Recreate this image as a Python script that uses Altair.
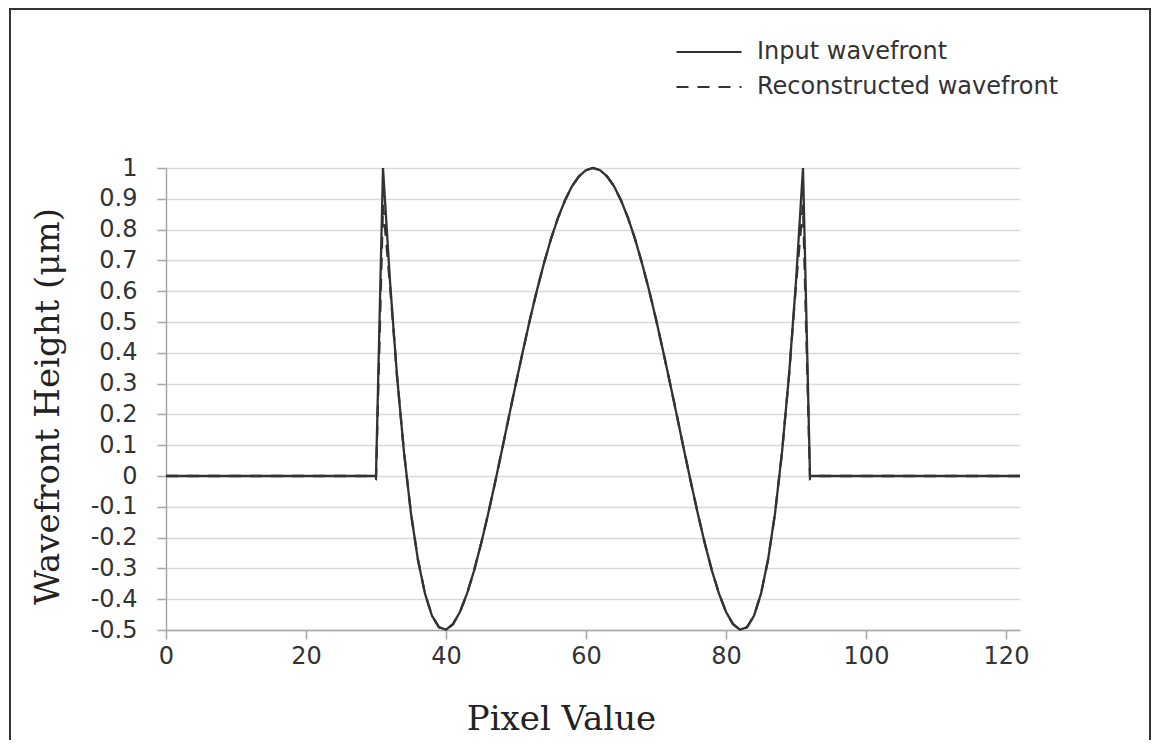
import altair as alt
import pandas as pd

# Pixel index (x axis)
pixel = list(range(123))

# Input wavefront, pixels 31..91 (outside: flat zero)
input_core = [1.000, 0.632, 0.326, 0.077, -0.122, -0.273, -0.382, -0.454, -0.491, -0.499,
              -0.481, -0.441, -0.382, -0.308, -0.221, -0.125, -0.022, 0.085, 0.194, 0.302,
              0.407, 0.509, 0.604, 0.691, 0.770, 0.838, 0.895, 0.941, 0.973, 0.993,
              1.000,
              0.993, 0.973, 0.941, 0.895, 0.838, 0.770, 0.691, 0.604, 0.509, 0.407,
              0.302, 0.194, 0.085, -0.022, -0.125, -0.221, -0.308, -0.382, -0.441, -0.481,
              -0.499, -0.491, -0.454, -0.382, -0.273, -0.122, 0.077, 0.326, 0.632, 1.000]
input_values = [0.0] * 31 + input_core + [0.0] * 31

# Reconstructed wavefront, pixels 30..92
recon_core = [-0.010,
              0.880, 0.620, 0.326, 0.077, -0.122, -0.273, -0.382, -0.454, -0.491, -0.499,
              -0.481, -0.441, -0.382, -0.308, -0.221, -0.125, -0.022, 0.085, 0.194, 0.302,
              0.407, 0.509, 0.604, 0.691, 0.770, 0.838, 0.895, 0.941, 0.973, 0.993,
              1.000,
              0.993, 0.973, 0.941, 0.895, 0.838, 0.770, 0.691, 0.604, 0.509, 0.407,
              0.302, 0.194, 0.085, -0.022, -0.125, -0.221, -0.308, -0.382, -0.441, -0.481,
              -0.499, -0.491, -0.454, -0.382, -0.273, -0.122, 0.077, 0.326, 0.620, 0.880,
              -0.010]
recon_values = [0.0] * 30 + recon_core + [0.0] * 30

series_names = ["Input wavefront", "Reconstructed wavefront"]
x_ticks = [0, 20, 40, 60, 80, 100, 120]
y_ticks = [-0.5, -0.4, -0.3, -0.2, -0.1, 0.0, 0.1, 0.2, 0.3, 0.4, 0.5, 0.6, 0.7, 0.8, 0.9, 1.0]

df = pd.concat([
    pd.DataFrame({"pixel": pixel, "value": input_values, "series": series_names[0]}),
    pd.DataFrame({"pixel": pixel, "value": recon_values, "series": series_names[1]}),
])

lines = alt.Chart(df).mark_line(color="#333333", strokeWidth=2.3).encode(
    x=alt.X("pixel:Q",
            scale=alt.Scale(domain=[0, 122], nice=False, zero=False),
            axis=alt.Axis(values=x_ticks, title="Pixel Value", grid=False, labelFlush=False,
                          labelPadding=5, titleX=395, titleY=99,
                          titleBaseline="alphabetic", titleAnchor="start", titleAlign="center")),
    y=alt.Y("value:Q",
            scale=alt.Scale(domain=[-0.5, 1.0], nice=False, zero=False),
            axis=alt.Axis(values=y_ticks, title="Wavefront Height (μm)", grid=True, labelFlush=False,
                          labelPadding=20, titleX=-108, titleY=238, titleAngle=270,
                          titleBaseline="alphabetic", titleAlign="center",
                          labelExpr="datum.value == 0 ? '0' : (datum.value < 0 ? '-' + format(-datum.value, '.1~f') : format(datum.value, '.1~f'))")),
    strokeDash=alt.StrokeDash("series:N",
                              scale=alt.Scale(domain=series_names, range=[[1, 0], [12, 9]]),
                              legend=alt.Legend(title=None, orient="none", legendX=531, legendY=-128,
                                                symbolType="M-3,0H3", symbolSize=470,
                                                symbolStrokeWidth=2.2, symbolStrokeColor="#333333",
                                                labelFont="DejaVu Sans", labelFontSize=24,
                                                labelColor="#333333", labelOffset=36, labelLimit=0,
                                                rowPadding=11, padding=0)),
    order=alt.Order("pixel:Q"),
)

frame = alt.Chart(pd.DataFrame({"f": [0]})).mark_rect(
    fillOpacity=0, stroke="#333333", strokeWidth=2
).encode(
    x=alt.value(-156), x2=alt.value(984), y=alt.value(-159), y2=alt.value(700)
)

chart = alt.layer(frame, lines).properties(
    width=854, height=462,
    autosize=alt.AutoSizeParams(type="none"),
    padding={"left": 158, "top": 160, "right": 131, "bottom": 110},
    background="white",
).configure_view(stroke=None).configure_axis(
    gridColor="#d9d9d9", gridWidth=1.5,
    domainColor="#a6a6a6", domainWidth=1.5,
    tickColor="#a6a6a6", tickSize=9, tickWidth=1.5,
    labelFont="DejaVu Sans", labelFontSize=24, labelColor="#333333",
    titleFont="DejaVu Serif", titleFontSize=34, titleFontWeight="normal", titleColor="#222222",
)

chart.save("out.html", embed_options={"renderer": "svg", "actions": False})
